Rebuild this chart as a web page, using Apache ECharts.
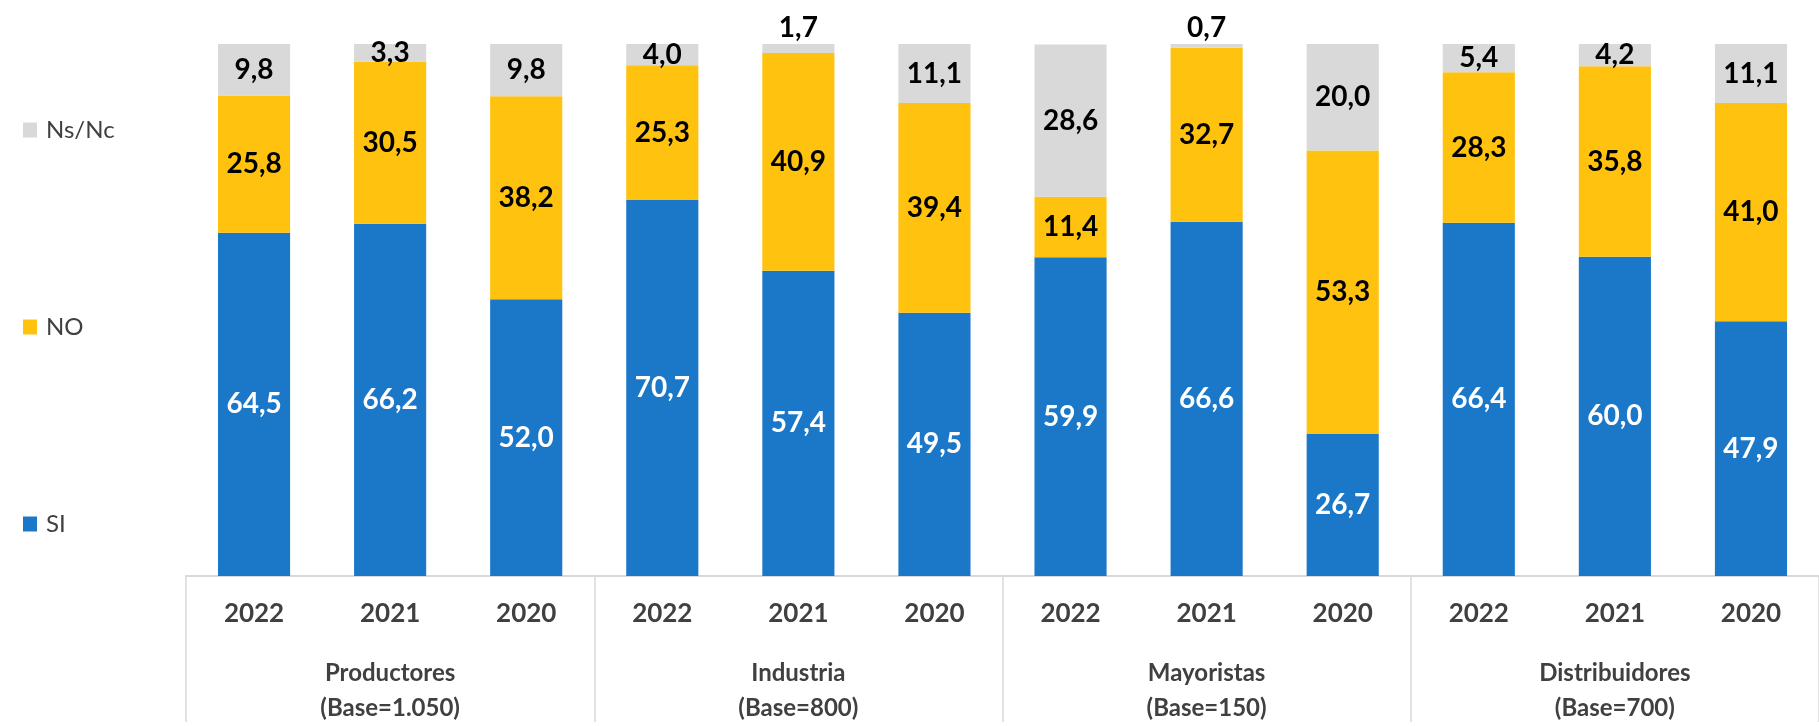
<!DOCTYPE html>
<html>
<head>
<meta charset="utf-8">
<title>SI / NO / Ns-Nc</title>
<script src="https://cdn.jsdelivr.net/npm/echarts@6/dist/echarts.min.js"></script>
<style>
  html, body { margin: 0; padding: 0; background: #fff; }
  #chart { width: 1819px; height: 726px; }
</style>
</head>
<body>
<div id="chart"></div>
<script>
// datos
var years = ['2022', '2021', '2020', '2022', '2021', '2020', '2022', '2021', '2020', '2022', '2021', '2020'];
var groups = ['Productores\n(Base=1.050)', 'Industria\n(Base=800)', 'Mayoristas\n(Base=150)', 'Distribuidores\n(Base=700)'];
var si = [64.5, 66.2, 52.0, 70.7, 57.4, 49.5, 59.9, 66.6, 26.7, 66.4, 60.0, 47.9];
var no = [25.8, 30.5, 38.2, 25.3, 40.9, 39.4, 11.4, 32.7, 53.3, 28.3, 35.8, 41.0];
var nsnc = [9.8, 3.3, 9.8, 4.0, 1.7, 11.1, 28.6, 0.7, 20.0, 5.4, 4.2, 11.1];

var FONT = 'Lato';

function fmt(p) {
  return p.value.toFixed(1).replace('.', ',');
}

// valores muy pequeños van encima de la barra
function nsncData() {
  return nsnc.map(function (v) {
    if (v < 2) {
      return { value: v, label: { position: 'top', distance: 2 } };
    }
    return v;
  });
}

var chart = echarts.init(document.getElementById('chart'));
chart.setOption({
  animation: false,
  color: ['#1B78C8', '#FFC20E', '#D9D9D9'],
  legend: {
    orient: 'vertical',
    left: 18,
    top: 113,
    itemGap: 173,
    itemWidth: 14,
    itemHeight: 15,
    icon: 'rect',
    data: ['Ns/Nc', 'NO', 'SI'],
    textStyle: { fontFamily: FONT, fontSize: 24, color: '#404040', padding: [0, 0, 0, 4] }
  },
  grid: { left: 186, right: -17, top: 44, bottom: 146 },
  xAxis: [
    {
      type: 'category',
      data: years,
      axisLine: { lineStyle: { color: '#D9D9D9', width: 2 } },
      axisTick: { show: false },
      axisLabel: { margin: 25, fontFamily: FONT, fontSize: 26, fontWeight: 'bold', color: '#404040' }
    },
    {
      type: 'category',
      position: 'bottom',
      data: groups,
      axisLine: { show: false },
      axisTick: { show: true, length: 146, lineStyle: { color: '#D9D9D9', width: 1.5 } },
      axisLabel: { margin: 80, fontFamily: FONT, fontSize: 24, fontWeight: 'bold', lineHeight: 35, color: '#404040' }
    }
  ],
  yAxis: { type: 'value', min: 0, max: 100, show: false },
  series: [
    {
      name: 'SI',
      type: 'bar',
      stack: 'total',
      barCategoryGap: '47%',
      data: si,
      label: { show: true, position: 'inside', formatter: fmt, fontFamily: FONT, fontSize: 28, fontWeight: 'bold', color: '#fff' }
    },
    {
      name: 'NO',
      type: 'bar',
      stack: 'total',
      data: no,
      label: { show: true, position: 'inside', formatter: fmt, fontFamily: FONT, fontSize: 28, fontWeight: 'bold', color: '#000' }
    },
    {
      name: 'Ns/Nc',
      type: 'bar',
      stack: 'total',
      data: nsncData(),
      label: { show: true, position: 'inside', formatter: fmt, fontFamily: FONT, fontSize: 28, fontWeight: 'bold', color: '#000' }
    }
  ]
});
</script>
</body>
</html>
